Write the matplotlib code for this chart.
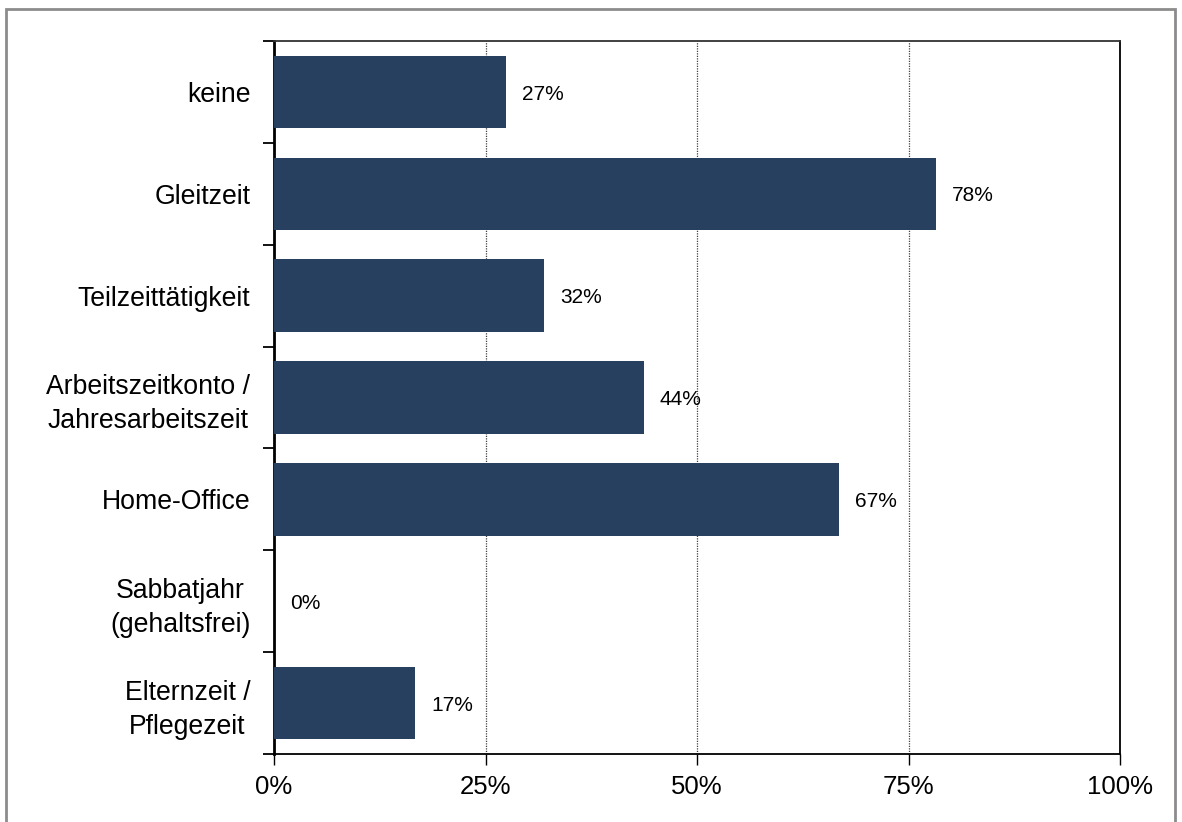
import matplotlib
matplotlib.use("Agg")
import matplotlib.pyplot as plt
from matplotlib.patches import Rectangle
from matplotlib.ticker import FixedLocator, PercentFormatter

plt.rcParams['font.family'] = ['Liberation Sans', 'DejaVu Sans']

categories = ["keine", "Gleitzeit", "Teilzeittätigkeit",
              "Arbeitszeitkonto /\nJahresarbeitszeit", "Home-Office",
              "Sabbatjahr\n(gehaltsfrei)", "Elternzeit /\nPflegezeit"]
values = [27.4, 78.2, 31.9, 43.7, 66.8, 0.0, 16.7]
xticks = [0, 25, 50, 75, 100]

W, H = 1182, 822
fig = plt.figure(figsize=(W / 100, H / 100), dpi=100)
fig.patch.set_facecolor("white")
ax = fig.add_axes([274 / W, 1 - 754 / H, (1120 - 274) / W, (754 - 41) / H])

n = len(categories)
ypos = list(range(n))
ax.barh(ypos, values, height=0.71, color="#27405F", edgecolor="none",
        linewidth=0, zorder=3)
ax.set_ylim(n - 0.5, -0.5)
ax.set_xlim(0, 100)

for y, v in zip(ypos, values):
    ax.annotate(f"{v:.0f}%", xy=(v, y), xytext=(11.5, -1.5), textcoords="offset points",
                ha="left", va="center", fontsize=15, color="black", zorder=4)

ax.set_yticks(ypos)
ax.set_yticklabels(categories, fontsize=19.2, multialignment="center", linespacing=1.4)
ax.tick_params(axis="y", which="major", length=0, pad=17)
ax.yaxis.set_minor_locator(FixedLocator([i - 0.5 for i in range(n + 1)]))
ax.tick_params(axis="y", which="minor", length=8, width=1.3, color="black", direction="out")

ax.set_xticks(xticks)
ax.xaxis.set_major_formatter(PercentFormatter(decimals=0))
ax.tick_params(axis="x", which="major", length=8, width=1.0, labelsize=18.5, pad=7, color="black")

ax.grid(axis="x", linestyle=(0, (1, 1)), color="#404040", linewidth=0.9, zorder=0)
ax.grid(axis="y", visible=False)
ax.set_axisbelow(True)

for side in ["left", "right", "bottom", "top"]:
    ax.spines[side].set_color("black")
ax.spines["left"].set_linewidth(2.0)
ax.spines["right"].set_linewidth(1.3)
ax.spines["bottom"].set_linewidth(1.3)
ax.spines["top"].set_linewidth(1.3)
ax.spines["top"].set_color("#333333")

fig.patches.append(Rectangle((6 / W, -0.05), (1175 - 6) / W, 1 + 0.05 - 9 / H,
                             transform=fig.transFigure, fill=False,
                             edgecolor="#8c8c8c", linewidth=2.0))

fig.savefig("out.png", dpi=100, facecolor="white")
